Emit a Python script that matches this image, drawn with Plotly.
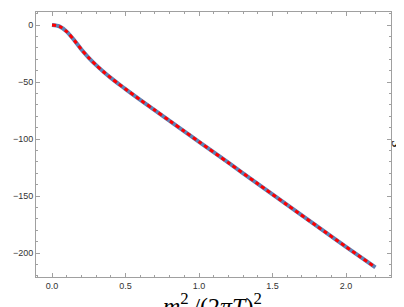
import plotly.graph_objects as go

x_vals = [0.0, 0.05, 0.1, 0.15, 0.2, 0.25, 0.3, 0.35, 0.4, 0.45, 0.5, 0.6, 0.7, 0.8, 0.9, 1.0, 1.2, 1.4, 1.6, 1.8, 2.0, 2.2]
y_vals = [0.0, -1.2, -5.8, -13.2, -21.5, -28.8, -35.2, -41.0, -46.4, -51.4, -56.2, -65.6, -74.8, -84.0, -93.2, -102.4, -120.8, -139.3, -157.8, -176.2, -194.5, -212.5]

fig = go.Figure()
fig.add_trace(go.Scatter(x=x_vals, y=y_vals, mode="lines",
                         line=dict(color="#5E81B5", width=4, shape="spline", smoothing=0.8),
                         showlegend=False, hoverinfo="skip"))
fig.add_trace(go.Scatter(x=x_vals, y=y_vals, mode="lines",
                         line=dict(color="#FF0000", width=3, dash="4px,3px", shape="spline", smoothing=0.8),
                         showlegend=False, hoverinfo="skip"))
fig.add_trace(go.Scatter(x=x_vals, y=y_vals, mode="lines", yaxis="y2",
                         line=dict(color="rgba(0,0,0,0)", width=0),
                         showlegend=False, hoverinfo="skip"))

axis_common = dict(
    showgrid=False, zeroline=False, showline=True, linecolor="#A0A0A0", linewidth=1,
    mirror="ticks", ticks="inside", ticklen=4, tickcolor="#A0A0A0", tickwidth=1,
    tickfont=dict(family="Liberation Sans, Arial, sans-serif", size=9, color="#333333"),
)

fig.update_layout(
    width=404, height=307,
    margin=dict(l=28, r=21, t=4, b=38),
    paper_bgcolor="white", plot_bgcolor="white",
    xaxis=dict(range=[-0.109, 2.306], dtick=0.5, tick0=0, tickformat=".1f",
               minor=dict(dtick=0.1, ticklen=2, ticks="inside", tickcolor="#A0A0A0"),
               **axis_common),
    yaxis=dict(range=[-221, 11.4], dtick=50, tick0=0,
               minor=dict(dtick=10, ticklen=2, ticks="inside", tickcolor="#A0A0A0"),
               **axis_common),
    yaxis2=dict(overlaying="y", side="right", range=[-221, 11.4], showgrid=False,
                zeroline=False, showline=False, ticks="", showticklabels=False,
                automargin=False,
                title=dict(text="<i>S</i>", standoff=0,
                           font=dict(family="Liberation Serif, Times New Roman, serif",
                                     size=15, color="black"))),
)

fig.add_annotation(text="<i>m</i><sup>2</sup><sub><i>l</i></sub>/(2<i>πT</i>)<sup>2</sup>",
                   xref="paper", yref="paper", x=0.496, y=-0.036, xanchor="center", yanchor="top",
                   showarrow=False,
                   font=dict(family="Liberation Serif, Times New Roman, serif", size=24, color="black"))

fig.write_html("out.html")
